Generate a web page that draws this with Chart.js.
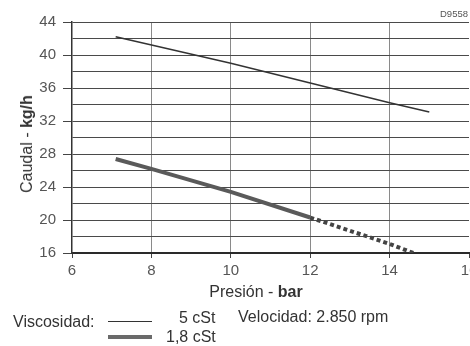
<!DOCTYPE html>
<html>
<head>
<meta charset="utf-8">
<script src="https://cdn.jsdelivr.net/npm/chart.js@4/dist/chart.umd.min.js"></script>
<style>
  html, body { margin: 0; padding: 0; background: #ffffff; }
  #wrap { position: relative; width: 470px; height: 346px; overflow: hidden; font-family: "Liberation Sans", Arial, sans-serif; color: #333; }
  canvas { position: absolute; left: 0; top: 0; }
  .t { position: absolute; white-space: nowrap; line-height: 1; }
  .sw { position: absolute; }
</style>
</head>
<body>
<div id="wrap">
  <canvas id="c" width="470" height="346"></canvas>
  <div class="t" style="left:440px; top:9px; font-size:9.5px; color:#555;">D9558</div>
  <div class="t" id="ytitle" style="left:27px; top:144px; font-size:16px; transform: translate(-50%,-50%) rotate(-90deg);">Caudal - <b>kg/h</b></div>
  <div class="t" style="left:256px; top:292px; font-size:16px; transform: translate(-50%,-50%);">Presión - <b>bar</b></div>
  <div class="t" style="left:13px; top:314px; font-size:16px;">Viscosidad:</div>
  <div class="sw" style="left:108px; top:321px; width:44px; height:1px; background:#333;"></div>
  <div class="t" style="left:179px; top:310px; font-size:16px;">5 cSt</div>
  <div class="t" style="left:238px; top:309px; font-size:16px;">Velocidad: 2.850 rpm</div>
  <div class="sw" style="left:108px; top:335px; width:44px; height:4px; background:#6a6a6a;"></div>
  <div class="t" style="left:166px; top:329px; font-size:16px;">1,8 cSt</div>
</div>
<script>
// Data
const pressure5cSt = [7.1, 10, 12, 14, 15];
const flow5cSt     = [42.2, 39.0, 36.6, 34.2, 33.1];
const pressure18Solid = [7.1, 8, 10, 12];
const flow18Solid     = [27.4, 26.2, 23.4, 20.3];
const pressure18Dotted = [12, 14, 14.6];
const flow18Dotted     = [20.3, 17.1, 16.0];
const xTicks = [6, 8, 10, 12, 14, 16];
const yGrid  = [16, 18, 20, 22, 24, 26, 28, 30, 32, 34, 36, 38, 40, 42, 44];
const yTicks = [16, 20, 24, 28, 32, 36, 40, 44];

const pts = (xs, ys) => xs.map((x, i) => ({ x: x, y: ys[i] }));
const tickFont = { family: "'Liberation Sans Narrow', 'Liberation Sans', Arial, sans-serif", size: 15 };
const isLabeled = (v) => yTicks.includes(v);

new Chart(document.getElementById('c'), {
  type: 'line',
  data: {
    datasets: [
      { label: '5 cSt', data: pts(pressure5cSt, flow5cSt), borderColor: '#333', borderWidth: 1.5, pointRadius: 0, tension: 0 },
      { label: '1,8 cSt', data: pts(pressure18Solid, flow18Solid), borderColor: '#5a5a5a', borderWidth: 4, pointRadius: 0, tension: 0 },
      { label: '1,8 cSt (ext)', data: pts(pressure18Dotted, flow18Dotted), borderColor: '#444', borderWidth: 4, borderDash: [4, 3], pointRadius: 0, tension: 0 }
    ]
  },
  options: {
    responsive: false,
    animation: false,
    devicePixelRatio: 1,
    layout: { padding: { top: 22, right: 1, left: 0, bottom: 0 } },
    plugins: { legend: { display: false }, tooltip: { enabled: false } },
    scales: {
      x: {
        type: 'linear', min: 6, max: 16,
        afterBuildTicks: (s) => { s.ticks = xTicks.map(v => ({ value: v })); },
        afterFit: (s) => { s.height = 93; s.paddingLeft = 0; s.paddingRight = 0; },
        ticks: { font: tickFont, color: '#555', padding: 4, maxRotation: 0, autoSkip: false },
        grid: {
          color: (c) => (c.tick && (c.tick.value === 6 || c.tick.value === 16)) ? 'rgba(0,0,0,0)' : '#8a8a8a',
          lineWidth: 1, tickLength: 5, tickColor: '#444', drawTicks: true
        },
        border: { display: true, color: '#2a2a2a', width: 2 }
      },
      y: {
        type: 'linear', min: 16, max: 44,
        afterBuildTicks: (s) => { s.ticks = yGrid.map(v => ({ value: v })); },
        ticks: { font: tickFont, color: '#555', padding: 7, autoSkip: false,
          callback: (v) => (isLabeled(v) ? String(v) : '') },
        afterFit: (s) => { s.width = 72; s.paddingTop = 0; s.paddingBottom = 0; },
        grid: {
          color: (c) => (c.tick && c.tick.value === 16) ? 'rgba(0,0,0,0)' : '#4a4a4a',
          lineWidth: 1, tickLength: 9,
          tickColor: (c) => (c.tick && isLabeled(c.tick.value)) ? '#444' : 'rgba(0,0,0,0)'
        },
        border: { display: true, color: '#333', width: 1.5 }
      }
    }
  }
});
</script>
</body>
</html>
